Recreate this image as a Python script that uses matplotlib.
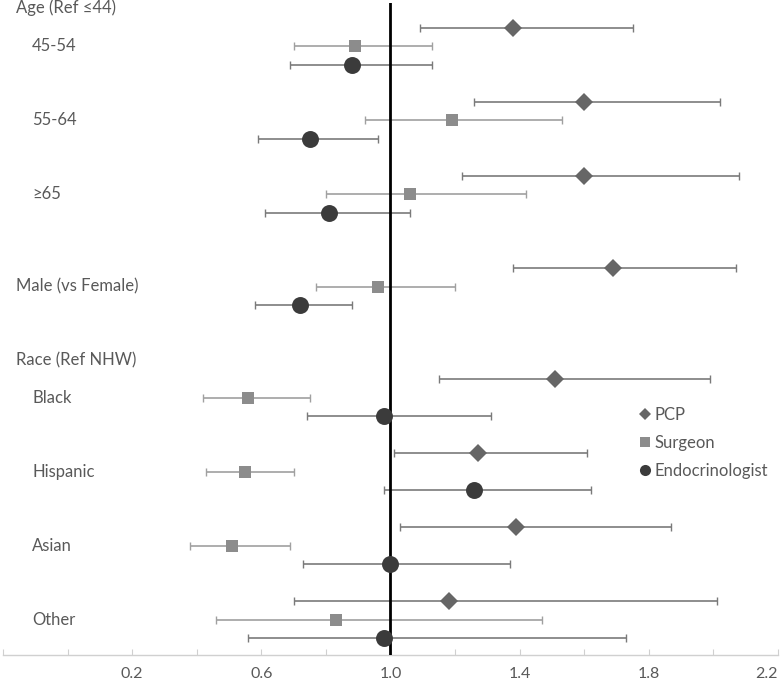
import matplotlib
matplotlib.use("Agg")
import matplotlib.pyplot as plt
from matplotlib.lines import Line2D
import numpy as np

# labels
groups = ["45-54", "55-64", "\u226565", "Male (vs Female)", "Black", "Hispanic", "Asian", "Other"]
headers = ["Age (Ref \u226444)", "Race (Ref NHW)"]
series = ["PCP", "Surgeon", "Endocrinologist"]

# odds ratios and 95% CI
pcp_or = [1.38, 1.60, 1.60, 1.69, 1.51, 1.27, 1.39, 1.18]
pcp_lo = [1.09, 1.26, 1.22, 1.38, 1.15, 1.01, 1.03, 0.70]
pcp_hi = [1.75, 2.02, 2.08, 2.07, 1.99, 1.61, 1.87, 2.01]

surg_or = [0.89, 1.19, 1.06, 0.96, 0.56, 0.55, 0.51, 0.83]
surg_lo = [0.70, 0.92, 0.80, 0.77, 0.42, 0.43, 0.38, 0.46]
surg_hi = [1.13, 1.53, 1.42, 1.20, 0.75, 0.70, 0.69, 1.47]

endo_or = [0.88, 0.75, 0.81, 0.72, 0.98, 1.26, 1.00, 0.98]
endo_lo = [0.69, 0.59, 0.61, 0.58, 0.74, 0.98, 0.73, 0.56]
endo_hi = [1.13, 0.96, 1.06, 0.88, 1.31, 1.62, 1.37, 1.73]

xticks = [0.2, 0.6, 1.0, 1.4, 1.8, 2.2]

# layout (row slots, top to bottom)
group_y = np.array([2.5, 6.5, 10.5, 15.5, 21.5, 25.5, 29.5, 33.5])
header_y = [0.4, 19.45]

plt.rcParams['font.family'] = ['Lato', 'DejaVu Sans']
txt = '#595959'

fig = plt.figure(figsize=(7.82, 6.80), dpi=100)
ax = fig.add_axes([3/782, 25/680, 775/782, 652/680])

styles = [
    (pcp_or, pcp_lo, pcp_hi, -1, 'D', 8.7, '#666666', '#7a7a7a'),
    (surg_or, surg_lo, surg_hi, 0, 's', 9.0, '#8c8c8c', '#a0a0a0'),
    (endo_or, endo_lo, endo_hi, 1, 'o', 12.2, '#3b3b3b', '#7a7a7a'),
]
for vals, lo, hi, off, mk, ms, col, ecol in styles:
    v = np.array(vals)
    err = [v - np.array(lo), np.array(hi) - v]
    ax.errorbar(v, group_y + off, xerr=err, fmt='none', ecolor=ecol,
                elinewidth=1.2, capsize=2.6, capthick=1.0, zorder=2)
    ax.plot(v, group_y + off, linestyle='none', marker=mk, markersize=ms,
            color=col, markeredgewidth=0, zorder=4)

ax.axvline(1.0, color='black', linewidth=2.0, zorder=3)

ax.set_xlim(-0.2, 2.2)
ax.set_ylim(35.4, 0.16)

# row labels
yt = ax.get_yaxis_transform()
for h, y in zip(headers, header_y):
    ax.text(13/775, y, h, transform=yt, ha='left', va='center', fontsize=12, color=txt,
            clip_on=False)
for i, (g, y) in enumerate(zip(groups, group_y)):
    x = 13/775 if i == 3 else 29/775
    ax.text(x, y, g, transform=yt, ha='left', va='center', fontsize=12, color=txt)

ax.set_yticks([])
ax.set_xticks(np.arange(-0.2, 2.21, 0.2))
ax.set_xticklabels(["%.1f" % t if any(abs(t - k) < 1e-6 for k in xticks) else "" for t in np.arange(-0.2, 2.21, 0.2)])
ax.tick_params(axis='x', direction='in', length=4, color='#d0d0d0', labelsize=11.5,
               labelcolor=txt, pad=9)
lbls = ax.get_xticklabels()
lbls[-1].set_horizontalalignment('right')
for s in ['top', 'left', 'right']:
    ax.spines[s].set_visible(False)
ax.spines['bottom'].set_color('#d0d0d0')
ax.spines['bottom'].set_linewidth(1.0)

handles = [
    Line2D([], [], linestyle='none', marker='D', markersize=6, color='#666666', markeredgewidth=0),
    Line2D([], [], linestyle='none', marker='s', markersize=7, color='#8c8c8c', markeredgewidth=0),
    Line2D([], [], linestyle='none', marker='o', markersize=8, color='#3b3b3b', markeredgewidth=0),
]
leg = ax.legend(handles, series, loc='upper left', bbox_to_anchor=(630/775, 1 - 397/652),
                frameon=False, fontsize=12, handlelength=0.6, handletextpad=0.3,
                labelspacing=0.72, borderaxespad=0)
for t in leg.get_texts():
    t.set_color(txt)

fig.savefig('out.png', dpi=100)
